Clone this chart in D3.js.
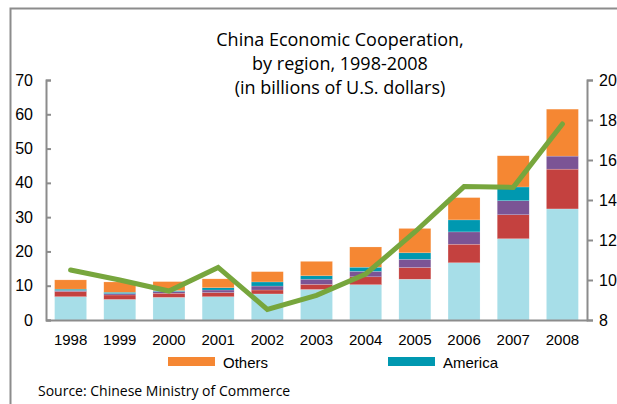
<!DOCTYPE html>
<html>
<head>
<meta charset="utf-8">
<script src="https://cdn.jsdelivr.net/npm/d3@7"></script>
<style>
body { margin: 0; background: #fff; }
</style>
</head>
<body>
<div id="chart"></div>
<script>
// data (billions of U.S. dollars)
var years = ["1998", "1999", "2000", "2001", "2002", "2003", "2004", "2005", "2006", "2007", "2008"];
var keys = ["Asia", "Africa", "Europe", "America", "Others"];
var asia    = [6.8, 6.0, 6.6, 6.8, 7.6, 8.9, 10.3, 11.9, 16.7, 23.7, 32.4];
var africa  = [1.5, 1.3, 1.2, 1.2, 1.15, 1.5, 2.3, 3.4, 5.4, 7.0, 11.6];
var europe  = [0.3, 0.4, 0.5, 0.75, 1.15, 1.5, 1.6, 2.4, 3.6, 4.1, 3.8];
var america = [0.4, 0.4, 0.3, 0.65, 1.2, 1.0, 1.2, 1.9, 3.5, 4.0, 0];
var others  = [2.7, 3.0, 2.6, 2.6, 3.0, 4.2, 5.9, 7.1, 6.5, 9.1, 13.7];
var lineValues = [10.5, 10.0, 9.45, 10.63, 8.53, 9.23, 10.3, 12.4, 14.67, 14.63, 17.8];
var leftTicks = [0, 10, 20, 30, 40, 50, 60, 70];
var rightTicks = [8, 10, 12, 14, 16, 18, 20];
var legendKeys = ["Others", "America"];

var colors = {
    Asia: "#a7dee8",
    Africa: "#c4413f",
    Europe: "#7b5495",
    America: "#0098b0",
    Others: "#f58733"
};

var W = 617, H = 404;
var margin = {top: 80, right: 30, bottom: 84, left: 46};
var width = W - margin.left - margin.right;
var height = H - margin.top - margin.bottom;

var svg = d3.select("#chart").append("svg")
    .attr("width", W)
    .attr("height", H);

// frame lines (top and left)
svg.append("path")
    .attr("d", "M10.5," + H + "V8.5H" + W)
    .attr("fill", "none")
    .attr("stroke", "#8c8c8c")
    .attr("stroke-width", 2);

var g = svg.append("g")
    .attr("transform", "translate(" + margin.left + "," + margin.top + ")");

var data = years.map(function (y, i) {
    return {year: y, Asia: asia[i], Africa: africa[i], Europe: europe[i], America: america[i], Others: others[i]};
});

var x = d3.scaleBand()
    .domain(years)
    .range([0, width])
    .paddingInner(0.35)
    .paddingOuter(0.175);

var y = d3.scaleLinear().domain([0, 70]).range([height, 0]);
var y2 = d3.scaleLinear().domain([8, 20]).range([height, 0]);

var stack = d3.stack().keys(keys)(data);

g.append("g")
    .selectAll("g")
    .data(stack)
    .enter().append("g")
    .attr("fill", function (d) { return colors[d.key]; })
    .selectAll("rect")
    .data(function (d) { return d; })
    .enter().append("rect")
    .attr("x", function (d) { return x(d.data.year); })
    .attr("y", function (d) { return y(d[1]); })
    .attr("width", x.bandwidth())
    .attr("height", function (d) { return y(d[0]) - y(d[1]); })
    .attr("stroke", "#fff")
    .attr("stroke-opacity", 0.35)
    .attr("stroke-width", 0.5);

// left axis
var yAxis = g.append("g")
    .call(d3.axisRight(y).tickValues(leftTicks).tickSize(5).tickSizeOuter(5));
yAxis.select(".domain").attr("stroke", "#8c8c8c").attr("stroke-width", 2);
yAxis.selectAll(".tick line").attr("stroke", "#8c8c8c").attr("stroke-width", 2);
yAxis.selectAll(".tick text")
    .attr("x", -13)
    .attr("text-anchor", "end")
    .attr("font-family", "Liberation Sans, Arial, sans-serif")
    .attr("font-size", 16)
    .attr("fill", "#000");

// right axis
var y2Axis = g.append("g")
    .attr("transform", "translate(" + width + ",0)")
    .call(d3.axisRight(y2).tickValues(rightTicks).tickSize(6).tickSizeOuter(6));
y2Axis.select(".domain").attr("stroke", "#8c8c8c").attr("stroke-width", 2);
y2Axis.selectAll(".tick line").attr("stroke", "#8c8c8c").attr("stroke-width", 2);
y2Axis.selectAll(".tick text")
    .attr("x", 12)
    .attr("font-family", "Liberation Sans, Arial, sans-serif")
    .attr("font-size", 16)
    .attr("fill", "#000");

// bottom axis
var xAxis = g.append("g")
    .attr("transform", "translate(0," + height + ")")
    .call(d3.axisBottom(x).tickSize(0).tickSizeOuter(0));
xAxis.select(".domain").attr("stroke", "#8c8c8c").attr("stroke-width", 2);
xAxis.selectAll(".tick text")
    .attr("y", 14)
    .attr("font-family", "Liberation Sans, Arial, sans-serif")
    .attr("font-size", 15)
    .attr("fill", "#000");

// green line on right axis
var line = d3.line()
    .x(function (d, i) { return x(years[i]) + x.bandwidth() / 2; })
    .y(function (d) { return y2(d); });

g.append("path")
    .datum(lineValues)
    .attr("d", line)
    .attr("fill", "none")
    .attr("stroke", "#77a63d")
    .attr("stroke-width", 5)
    .attr("stroke-linecap", "round")
    .attr("stroke-linejoin", "miter");

// title
var title = ["China Economic Cooperation,", "by region, 1998-2008", "(in billions of U.S. dollars)"];
svg.append("g")
    .selectAll("text")
    .data(title)
    .enter().append("text")
    .attr("x", 340)
    .attr("y", function (d, i) { return 46 + i * 24; })
    .attr("text-anchor", "middle")
    .attr("font-family", "Open Sans, sans-serif")
    .attr("font-size", 18)
    .attr("fill", "#000")
    .text(function (d) { return d; });

// legend
var legendX = [168, 388];
var legend = svg.append("g")
    .selectAll("g")
    .data(legendKeys)
    .enter().append("g")
    .attr("transform", function (d, i) { return "translate(" + legendX[i] + ",357)"; });

legend.append("rect")
    .attr("width", 47)
    .attr("height", 9)
    .attr("fill", function (d) { return colors[d]; });

legend.append("text")
    .attr("x", 55)
    .attr("y", 11)
    .attr("font-family", "Liberation Sans, Arial, sans-serif")
    .attr("font-size", 15)
    .attr("fill", "#000")
    .text(function (d) { return d; });

svg.append("text")
    .attr("x", 38)
    .attr("y", 396)
    .attr("font-family", "Open Sans, sans-serif")
    .attr("font-size", 14)
    .attr("fill", "#000")
    .text("Source: Chinese Ministry of Commerce");
</script>
</body>
</html>
